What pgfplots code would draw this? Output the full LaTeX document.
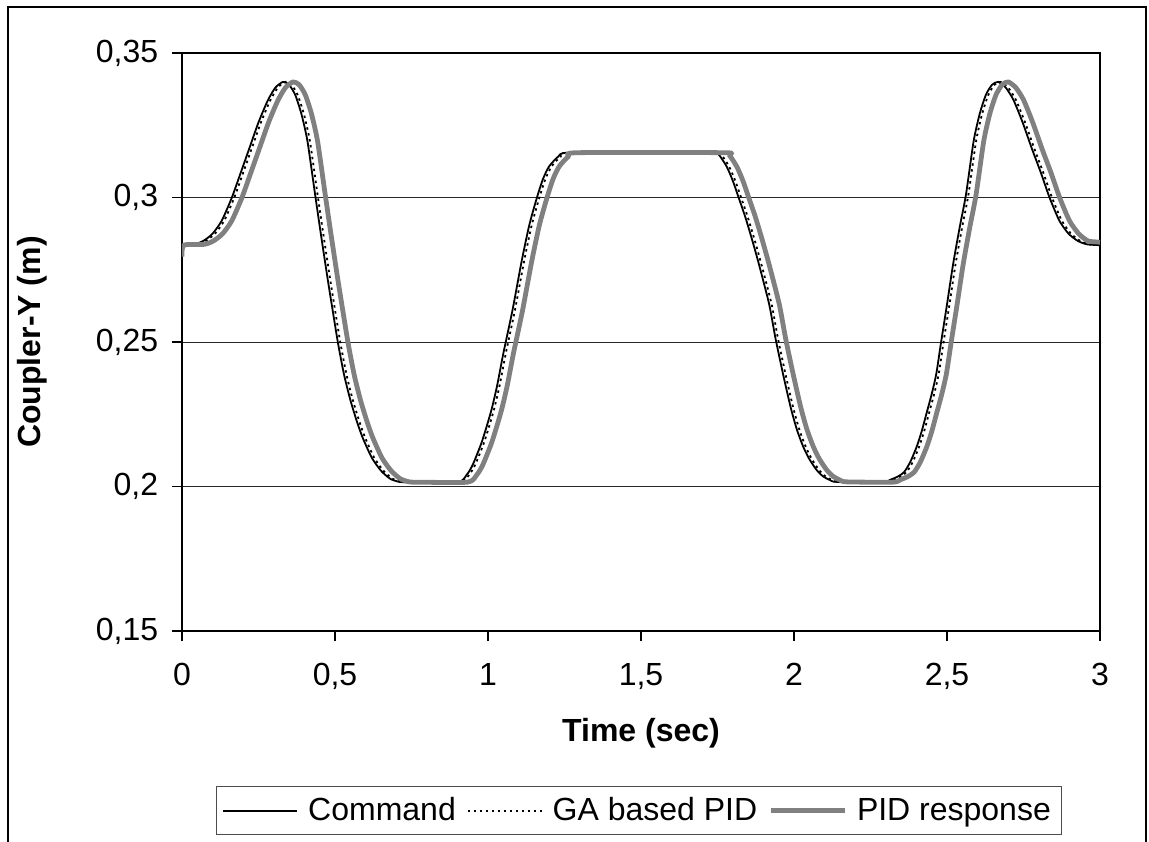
\documentclass[border=0pt]{standalone}
\usepackage{pgfplots}
\pgfplotsset{compat=1.18}
\usepackage{pgfplotstable}
\usepackage{fontspec}
\setmainfont{Liberation Sans}
\definecolor{pidgray}{RGB}{128,128,128}
\newcommand{\fs}{\fontsize{16}{19.2}\selectfont}

\pgfplotstableread{
t y
0.000 0.2835
0.040 0.2838
0.070 0.2850
0.100 0.2875
0.130 0.2920
0.163 0.3000
0.190 0.3080
0.220 0.3170
0.250 0.3260
0.280 0.3335
0.305 0.3380
0.330 0.3400
0.350 0.3390
0.370 0.3355
0.390 0.3290
0.410 0.3195
0.435 0.3010
0.455 0.2865
0.475 0.2725
0.490 0.2625
0.510 0.2495
0.530 0.2385
0.550 0.2300
0.570 0.2230
0.590 0.2170
0.620 0.2100
0.650 0.2055
0.680 0.2027
0.710 0.2016
0.740 0.2015
0.900 0.2015
0.930 0.2040
0.950 0.2075
0.980 0.2155
1.010 0.2260
1.030 0.2350
1.050 0.2460
1.080 0.2610
1.110 0.2780
1.135 0.2905
1.160 0.3000
1.180 0.3065
1.200 0.3108
1.230 0.3142
1.260 0.3155
1.500 0.3155
1.735 0.3155
1.755 0.3147
1.780 0.3107
1.800 0.3058
1.818 0.3003
1.840 0.2935
1.860 0.2865
1.880 0.2790
1.900 0.2710
1.920 0.2625
1.940 0.2510
1.965 0.2385
1.990 0.2270
2.010 0.2195
2.030 0.2138
2.050 0.2095
2.074 0.2057
2.095 0.2035
2.118 0.2022
2.140 0.2016
2.290 0.2015
2.314 0.2023
2.340 0.2035
2.360 0.2050
2.380 0.2085
2.401 0.2138
2.417 0.2190
2.433 0.2253
2.450 0.2320
2.465 0.2390
2.480 0.2495
2.500 0.2630
2.520 0.2770
2.542 0.2900
2.562 0.3010
2.587 0.3195
2.607 0.3290
2.627 0.3355
2.647 0.3390
2.667 0.3400
2.692 0.3380
2.717 0.3338
2.747 0.3260
2.777 0.3170
2.807 0.3085
2.835 0.3000
2.867 0.2920
2.897 0.2875
2.927 0.2850
2.957 0.2838
3.000 0.2835
}\cmdtable

\pgfplotstableread{
t y
0.000 0.2835
0.048 0.2838
0.078 0.2850
0.108 0.2875
0.138 0.2920
0.171 0.3000
0.198 0.3080
0.228 0.3170
0.258 0.3260
0.288 0.3335
0.313 0.3380
0.338 0.3400
0.358 0.3390
0.378 0.3355
0.398 0.3290
0.418 0.3195
0.443 0.3010
0.463 0.2865
0.483 0.2725
0.498 0.2625
0.518 0.2495
0.538 0.2385
0.558 0.2300
0.578 0.2230
0.598 0.2170
0.628 0.2100
0.658 0.2055
0.688 0.2027
0.718 0.2016
0.748 0.2015
0.908 0.2015
0.938 0.2040
0.958 0.2075
0.988 0.2155
1.018 0.2260
1.038 0.2350
1.058 0.2460
1.088 0.2610
1.118 0.2780
1.143 0.2905
1.168 0.3000
1.188 0.3065
1.208 0.3108
1.238 0.3142
1.268 0.3155
1.743 0.3155
1.763 0.3147
1.788 0.3107
1.808 0.3058
1.826 0.3003
1.848 0.2935
1.868 0.2865
1.888 0.2790
1.908 0.2710
1.928 0.2625
1.948 0.2510
1.973 0.2385
1.998 0.2270
2.018 0.2195
2.038 0.2138
2.058 0.2095
2.082 0.2057
2.103 0.2035
2.126 0.2022
2.148 0.2016
2.298 0.2015
2.322 0.2023
2.348 0.2035
2.368 0.2050
2.388 0.2085
2.409 0.2138
2.425 0.2190
2.441 0.2253
2.458 0.2320
2.473 0.2390
2.488 0.2495
2.508 0.2630
2.528 0.2770
2.550 0.2900
2.570 0.3010
2.595 0.3195
2.615 0.3290
2.635 0.3355
2.655 0.3390
2.675 0.3400
2.700 0.3380
2.725 0.3338
2.755 0.3260
2.785 0.3170
2.815 0.3085
2.843 0.3000
2.875 0.2920
2.905 0.2875
2.935 0.2850
2.965 0.2838
3.000 0.2836
}\gatable

\pgfplotstableread{
t y
0.000 0.2795
0.006 0.2835
0.073 0.2838
0.103 0.2850
0.133 0.2875
0.163 0.2920
0.196 0.3000
0.223 0.3080
0.253 0.3170
0.283 0.3260
0.313 0.3335
0.338 0.3380
0.363 0.3400
0.383 0.3390
0.403 0.3355
0.423 0.3290
0.443 0.3195
0.468 0.3010
0.488 0.2865
0.508 0.2725
0.523 0.2625
0.543 0.2495
0.563 0.2385
0.583 0.2300
0.603 0.2230
0.623 0.2170
0.653 0.2100
0.683 0.2055
0.713 0.2027
0.743 0.2016
0.773 0.2015
0.933 0.2015
0.963 0.2040
0.983 0.2075
1.013 0.2155
1.043 0.2260
1.063 0.2350
1.083 0.2460
1.113 0.2610
1.143 0.2780
1.168 0.2905
1.193 0.3000
1.213 0.3065
1.233 0.3108
1.263 0.3142
1.293 0.3155
1.768 0.3155
1.788 0.3147
1.813 0.3107
1.833 0.3058
1.851 0.3003
1.873 0.2935
1.893 0.2865
1.913 0.2790
1.933 0.2710
1.953 0.2625
1.973 0.2510
1.998 0.2385
2.023 0.2270
2.043 0.2195
2.063 0.2138
2.083 0.2095
2.107 0.2057
2.128 0.2035
2.151 0.2022
2.173 0.2016
2.323 0.2015
2.347 0.2023
2.373 0.2035
2.393 0.2050
2.413 0.2085
2.434 0.2138
2.450 0.2190
2.466 0.2253
2.483 0.2320
2.498 0.2390
2.513 0.2495
2.533 0.2630
2.553 0.2770
2.575 0.2900
2.595 0.3010
2.620 0.3195
2.640 0.3290
2.660 0.3355
2.680 0.3390
2.700 0.3400
2.725 0.3380
2.750 0.3338
2.780 0.3260
2.810 0.3170
2.840 0.3085
2.868 0.3000
2.900 0.2920
2.930 0.2875
2.960 0.2850
2.990 0.2846
3.000 0.2845
}\pidtable

\begin{document}
\begin{tikzpicture}
\useasboundingbox (-91pt,-105pt) rectangle (483.5pt,315.5pt);
\draw[line width=1pt] (-87pt,-110pt) rectangle (482pt,312pt);
\begin{axis}[
  at={(0pt,0pt)}, anchor=south west,
  scale only axis, width=459pt, height=289pt,
  xmin=0, xmax=3, ymin=0.15, ymax=0.35,
  xtick={0,0.5,1,1.5,2,2.5,3},
  xticklabels={0,{0,5},1,{1,5},2,{2,5},3},
  ytick={0.15,0.2,0.25,0.3,0.35},
  yticklabels={{0,15},{0,2},{0,25},{0,3},{0,35}},
  tick align=outside, tick pos=left,
  major tick length=5pt,
  axis line style={line width=1pt},
  every tick/.style={black, line width=0.6pt},
  ymajorgrids, major grid style={black!85, line width=0.5pt},
  tick label style={font=\fs},
  xticklabel style={yshift=-7.6pt},
  yticklabel style={xshift=-3.4pt},
  xlabel={Time (sec)}, ylabel={Coupler-Y (m)},
  label style={font=\fs\bfseries},
  xlabel style={at={(axis description cs:0.5,-0.1765)}, anchor=center},
  ylabel style={at={(axis description cs:-0.163,0.5)}, anchor=center},
  legend columns=3,
  legend style={at={(axis description cs:0.498,-0.311)}, anchor=center,
    draw=black!70, line width=0.5pt, font=\fs,
    nodes={inner xsep=2.5pt, inner ysep=3pt},
    /tikz/every odd column/.append style={column sep=2.5pt},
    /tikz/every even column/.append style={column sep=3pt},
    inner xsep=3pt, inner ysep=2.5pt},
  legend image code/.code={\draw[#1] (0pt,0pt) -- (37pt,0pt);},
]
\addplot[black, line width=0.9pt, smooth, tension=0.4] table[x=t,y=y]{\cmdtable};
\addlegendentry{Command}
\addplot[black, line width=0.9pt, dash pattern=on 1.2pt off 1.8pt, smooth, tension=0.4] table[x=t,y=y]{\gatable};
\addlegendentry{GA based PID}
\addplot[pidgray, line width=2.4pt, line join=round, smooth, tension=0.4] table[x=t,y=y]{\pidtable};
\addlegendentry{PID response}
\end{axis}
\end{tikzpicture}
\end{document}
